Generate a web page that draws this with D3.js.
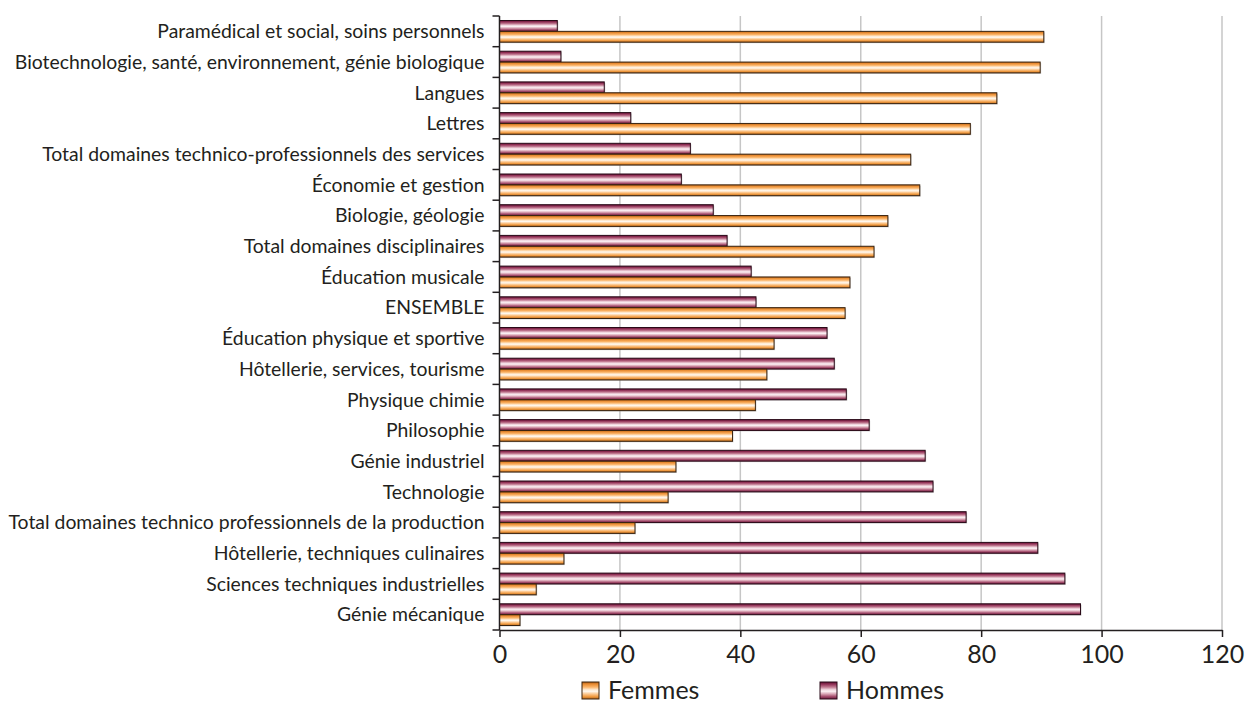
<!DOCTYPE html>
<html>
<head>
<meta charset="utf-8">
<script src="https://cdn.jsdelivr.net/npm/d3@7"></script>
<style>
  html, body { margin: 0; padding: 0; background: #fff; }
  svg { display: block; }
  text { font-family: Lato, "Open Sans", sans-serif; fill: #231f20; }
</style>
</head>
<body>
<svg id="chart" width="1246" height="704"></svg>
<script>
// Répartition femmes / hommes par domaine (%)
const categories = [
  "Paramédical et social, soins personnels",
  "Biotechnologie, santé, environnement, génie biologique",
  "Langues",
  "Lettres",
  "Total domaines technico-professionnels des services",
  "Économie et gestion",
  "Biologie, géologie",
  "Total domaines disciplinaires",
  "Éducation musicale",
  "ENSEMBLE",
  "Éducation physique et sportive",
  "Hôtellerie, services, tourisme",
  "Physique chimie",
  "Philosophie",
  "Génie industriel",
  "Technologie",
  "Total domaines technico professionnels de la production",
  "Hôtellerie, techniques culinaires",
  "Sciences techniques industrielles",
  "Génie mécanique"
];
const hommes = [9.6, 10.2, 17.4, 21.8, 31.7, 30.2, 35.5, 37.8, 41.8, 42.6,
                54.4, 55.6, 57.6, 61.4, 70.7, 72.0, 77.5, 89.4, 93.9, 96.5];
const femmes = [90.4, 89.8, 82.6, 78.2, 68.3, 69.8, 64.5, 62.2, 58.2, 57.4,
                45.6, 44.4, 42.5, 38.7, 29.3, 28.0, 22.5, 10.7, 6.1, 3.4];
const seriesNames = ["Hommes", "Femmes"];
const legendOrder = ["Femmes", "Hommes"];
const xTicks = [0, 20, 40, 60, 80, 100, 120];

const svg = d3.select("#chart");
const plot = { left: 499.5, right: 1222, top: 16, bottom: 630 };

const x = d3.scaleLinear().domain([0, 120]).range([plot.left, plot.right]);
const y = d3.scaleBand().domain(categories).range([plot.top, plot.bottom]);
const yBars = y.copy().paddingInner(0.293).paddingOuter(0.1465);
const ySeries = d3.scaleBand().domain(seriesNames).range([0, yBars.bandwidth()]);

// Stripe-like vertical gradients giving a tubular look
const defs = svg.append("defs");
const gradients = {
  Femmes: [
    [0, "#a65a14"], [0.12, "#e88a30"], [0.3, "#fbb468"], [0.45, "#ffe9cf"],
    [0.55, "#fff8ef"], [0.7, "#fcc890"], [0.86, "#f09a40"], [1, "#b4661c"]
  ],
  Hommes: [
    [0, "#5e1233"], [0.12, "#8e2c52"], [0.3, "#c07890"], [0.45, "#f0d6de"],
    [0.55, "#fbf0f3"], [0.7, "#d9a4b4"], [0.86, "#a24a6a"], [1, "#6a1a3c"]
  ]
};
Object.entries(gradients).forEach(([name, stops]) => {
  const g = defs.append("linearGradient")
    .attr("id", "grad-" + name)
    .attr("x1", 0).attr("y1", 0).attr("x2", 0).attr("y2", 1);
  stops.forEach(([o, c]) => g.append("stop").attr("offset", o).attr("stop-color", c));
});
const strokeColor = { Femmes: "#3a2410", Hommes: "#2a0a18" };

// Vertical gridlines
svg.append("g").selectAll("line")
  .data(xTicks.filter(d => d > 0))
  .join("line")
  .attr("x1", d => x(d)).attr("x2", d => x(d))
  .attr("y1", plot.top).attr("y2", plot.bottom)
  .attr("stroke", "#c6c6c6").attr("stroke-width", 1.5);

// Bars
const rows = categories.map((c, i) => ({ cat: c, Hommes: hommes[i], Femmes: femmes[i] }));
const groups = svg.append("g").selectAll("g")
  .data(rows)
  .join("g")
  .attr("transform", d => `translate(0,${yBars(d.cat)})`);

seriesNames.forEach(name => {
  // soft shadow
  groups.append("rect")
    .attr("x", x(0) + 1)
    .attr("y", ySeries(name) + 1)
    .attr("width", d => x(d[name]) - x(0))
    .attr("height", ySeries.bandwidth())
    .attr("fill", "#9a9a9a").attr("opacity", 0.45);
  groups.append("rect")
    .attr("x", x(0))
    .attr("y", ySeries(name))
    .attr("width", d => x(d[name]) - x(0))
    .attr("height", ySeries.bandwidth())
    .attr("fill", `url(#grad-${name})`)
    .attr("stroke", strokeColor[name])
    .attr("stroke-width", 1);
});

// Left axis: line, ticks at band boundaries, labels centered on bands
const axisColor = "#231f20";
const left = svg.append("g");
left.append("line")
  .attr("x1", plot.left).attr("x2", plot.left)
  .attr("y1", plot.top).attr("y2", plot.bottom)
  .attr("stroke", axisColor).attr("stroke-width", 1.5);
const boundaries = categories.map(c => y(c)).concat([plot.bottom]);
left.selectAll("line.tick")
  .data(boundaries)
  .join("line")
  .attr("class", "tick")
  .attr("x1", plot.left - 7).attr("x2", plot.left)
  .attr("y1", d => d).attr("y2", d => d)
  .attr("stroke", axisColor).attr("stroke-width", 1.5);
left.selectAll("text")
  .data(categories)
  .join("text")
  .attr("x", plot.left - 15)
  .attr("y", d => y(d) + y.bandwidth() / 2)
  .attr("dy", "0.35em")
  .attr("text-anchor", "end")
  .style("font-size", "19.4px")
  .text(d => d);

// Bottom axis
const xAxis = d3.axisBottom(x).tickValues(xTicks).tickSize(7).tickPadding(8).tickSizeOuter(0);
const bottom = svg.append("g")
  .attr("transform", `translate(0,${plot.bottom})`)
  .call(xAxis);
bottom.select(".domain").attr("stroke", axisColor).attr("stroke-width", 1.5);
bottom.selectAll(".tick line").attr("stroke", axisColor).attr("stroke-width", 1.5);
bottom.selectAll(".tick text")
  .style("font-size", "25px")
  .style("font-family", "Lato, 'Open Sans', sans-serif")
  .attr("fill", axisColor);

// Legend
const legendPos = { Femmes: 582, Hommes: 820 };
const legend = svg.append("g").attr("transform", "translate(0,690)");
legendOrder.forEach(name => {
  const gx = legendPos[name];
  legend.append("rect")
    .attr("x", gx).attr("y", -8).attr("width", 17).attr("height", 17)
    .attr("fill", `url(#grad-${name})`)
    .attr("stroke", strokeColor[name]).attr("stroke-width", 1);
  legend.append("text")
    .attr("x", gx + 26).attr("y", 0).attr("dy", "0.36em")
    .style("font-size", "25px")
    .text(name);
});
</script>
</body>
</html>
